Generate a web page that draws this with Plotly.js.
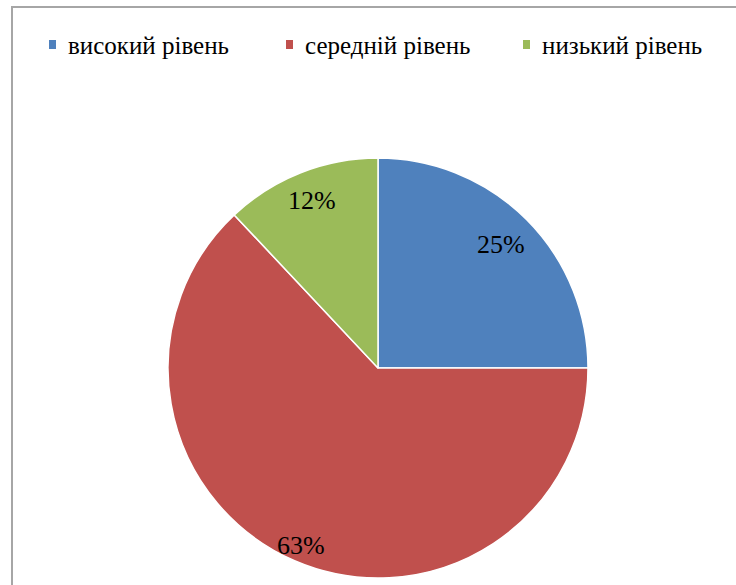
<!DOCTYPE html>
<html>
<head>
<meta charset="utf-8">
<script src="https://cdn.plot.ly/plotly-3.0.1.min.js"></script>
<style>
  html, body { margin: 0; padding: 0; background: #ffffff; }
  #wrap { position: relative; width: 736px; height: 585px; overflow: hidden; }
  #chart { position: absolute; left: 0; top: 0; width: 736px; height: 585px; }
  #chart text { font-family: 'Liberation Serif', serif !important; }
  #frame {
    position: absolute; left: 11px; top: 6px; width: 760px; height: 620px;
    border: 2px solid #a6a6a6; box-sizing: border-box; pointer-events: none;
  }
  #legend { position: absolute; left: 0; top: 0; width: 736px; height: 80px; }
  .entry { position: absolute; top: 32px; height: 25px; line-height: 25px;
           font: 25px 'Liberation Serif', serif; color: #000; white-space: nowrap; }
  .key { position: absolute; left: 0; top: 8px; width: 7px; height: 9px; }
  .name { position: absolute; left: 19px; top: 0; }
</style>
</head>
<body>
<div id="wrap">
  <div id="chart"></div>
  <div id="legend"></div>
  <div id="frame"></div>
</div>
<script>
// Рівні (категорії) та їх частки у відсотках
const levels = ['високий рівень', 'середній рівень', 'низький рівень'];
const shares = [25, 63, 12];
const sliceColors = ['#4F81BD', '#C0504D', '#9BBB59'];
// how far out along each slice's bisector its label sits (fraction of radius)
const labelRadius = [0.83, 0.92, 0.86];

const pageW = 736, pageH = 585;
const fontSerif = 'Liberation Serif, serif';

// legend row across the top: small colour square, then the level name
const legendLeft = 49, legendStep = 237;
const legendBox = document.getElementById('legend');
levels.forEach((name, i) => {
  const entry = document.createElement('div');
  entry.className = 'entry';
  entry.style.left = (legendLeft + i * legendStep) + 'px';
  const key = document.createElement('span');
  key.className = 'key';
  key.style.background = sliceColors[i];
  const txt = document.createElement('span');
  txt.className = 'name';
  txt.textContent = name;
  entry.appendChild(key);
  entry.appendChild(txt);
  legendBox.appendChild(entry);
});

// pie area inside the page, in paper fractions
const pieDomain = { x: [168 / pageW, 588 / pageW], y: [7 / pageH, 427 / pageH] };

const pieTrace = {
  type: 'pie',
  labels: levels,
  values: shares,
  sort: false,
  direction: 'clockwise',
  rotation: 0,
  domain: pieDomain,
  marker: { colors: sliceColors, line: { color: '#ffffff', width: 1.5 } },
  textinfo: 'none',
  hoverinfo: 'none',
  showlegend: false
};

// percentage labels on each slice's bisector, computed from the shares
const cx = (pieDomain.x[0] + pieDomain.x[1]) / 2;
const cy = (pieDomain.y[0] + pieDomain.y[1]) / 2;
const rx = (pieDomain.x[1] - pieDomain.x[0]) / 2;
const ry = (pieDomain.y[1] - pieDomain.y[0]) / 2;
const total = shares.reduce((a, b) => a + b, 0);
let cum = 0;
const pctLabels = shares.map((v, i) => {
  const midFrac = (cum + v / 2) / total;
  cum += v;
  const ang = Math.PI / 2 - midFrac * 2 * Math.PI;   // clockwise from 12 o'clock
  return {
    xref: 'paper', yref: 'paper',
    x: cx + rx * labelRadius[i] * Math.cos(ang),
    y: cy + ry * labelRadius[i] * Math.sin(ang),
    text: v + '%',
    showarrow: false,
    xanchor: 'center', yanchor: 'middle',
    font: { family: fontSerif, size: 26, color: '#000000' }
  };
});

const layout = {
  width: pageW,
  height: pageH,
  margin: { l: 0, r: 0, t: 0, b: 0 },
  paper_bgcolor: '#ffffff',
  font: { family: fontSerif, color: '#000000' },
  showlegend: false,
  annotations: pctLabels
};

Plotly.newPlot('chart', [pieTrace], layout, { staticPlot: true });
</script>
</body>
</html>
